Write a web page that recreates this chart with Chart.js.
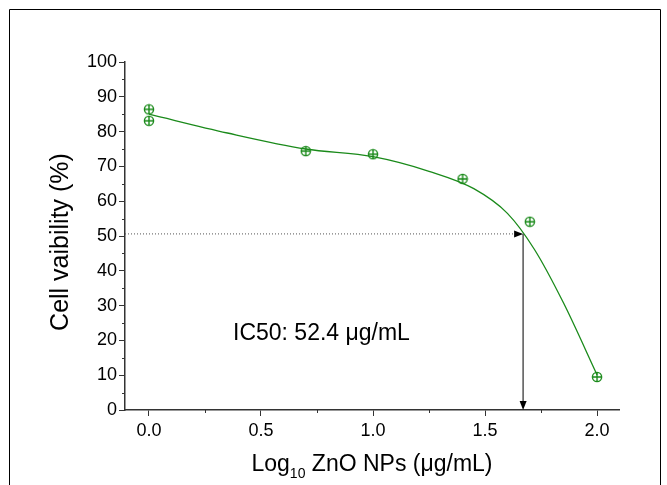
<!DOCTYPE html>
<html lang="en">
<head>
<meta charset="UTF-8">
<script src="https://cdn.jsdelivr.net/npm/chart.js"></script>
<style>
  body { margin: 0; background: #fff; }
  #wrap { width: 667px; height: 485px; }
</style>
</head>
<body>
<div id="wrap"><canvas id="myChart" width="667" height="485"></canvas></div>
<script>
// measured points (log10 conc, viability %)
const doseLog = [0, 0, 0.7, 1.0, 1.4, 1.7, 2.0]
const viability = [86.4, 83.1, 74.4, 73.5, 66.4, 54.1, 9.5]

// fitted curve
const fitX = [0, 0.35, 0.7, 1.0, 1.25, 1.45, 1.6, 1.72, 1.85, 2.0]
const fitY = [85.0, 79.6, 75.0, 72.8, 68.6, 63.6, 56.5, 46.2, 30.8, 10.1]

// IC50 guide
const ic50X = 1.67
const ic50Y = 50.6
const xTicks = [0, 0.5, 1.0, 1.5, 2.0]
const xMin = -0.107
const xMax = 2.098

const yTitle = 'Cell vaibility (%)'
const xTitleMain = 'Log'
const xTitleSub = '10'
const xTitleRest = ' ZnO NPs (\u03bcg/mL)'
const ic50Text = 'IC50: 52.4 \u03bcg/mL'

const green = '#1a8a1a'
const FONT = "'Liberation Sans', Arial, sans-serif"

// circle-plus marker
const marker = document.createElement('canvas')
marker.width = 12
marker.height = 12
const mctx = marker.getContext('2d')
mctx.strokeStyle = green
mctx.lineWidth = 1.4
mctx.beginPath()
mctx.arc(6, 6, 4.6, 0, Math.PI * 2)
mctx.moveTo(1.4, 6); mctx.lineTo(10.6, 6)
mctx.moveTo(6, 1.4); mctx.lineTo(6, 10.6)
mctx.stroke()

const extras = {
  id: 'extras',
  beforeDraw(chart) {
    const c = chart.ctx
    c.save()
    c.strokeStyle = '#000'
    c.lineWidth = 1
    c.beginPath()
    c.moveTo(9.5, 485)
    c.lineTo(9.5, 9.5)
    c.lineTo(660.5, 9.5)
    c.lineTo(660.5, 485)
    c.stroke()
    c.restore()
  },
  afterDraw(chart) {
    const c = chart.ctx
    const xs = chart.scales.x
    const ys = chart.scales.y
    const area = chart.chartArea
    c.save()
    // minor ticks
    c.strokeStyle = '#333'
    c.lineWidth = 1
    c.beginPath()
    for (let v = 5; v < 100; v += 10) {
      const py = Math.round(ys.getPixelForValue(v)) + 0.5
      c.moveTo(area.left - 3, py)
      c.lineTo(area.left, py)
    }
    for (let v = 0.25; v < 2.1; v += 0.5) {
      const px = Math.round(xs.getPixelForValue(v)) + 0.5
      c.moveTo(px, area.bottom)
      c.lineTo(px, area.bottom + 3)
    }
    c.stroke()

    // arrow heads
    const tx = xs.getPixelForValue(ic50X)
    const ty = ys.getPixelForValue(ic50Y)
    c.fillStyle = '#000'
    c.beginPath()
    c.moveTo(tx, ty)
    c.lineTo(tx - 9, ty - 3.5)
    c.lineTo(tx - 9, ty + 3.5)
    c.closePath()
    c.fill()
    const by = ys.getPixelForValue(0)
    c.beginPath()
    c.moveTo(tx, by)
    c.lineTo(tx - 3.5, by - 9)
    c.lineTo(tx + 3.5, by - 9)
    c.closePath()
    c.fill()

    // texts
    c.fillStyle = '#000'
    c.font = '23px ' + FONT
    c.textAlign = 'left'
    c.textBaseline = 'alphabetic'
    c.fillText(ic50Text, xs.getPixelForValue(0.375), ys.getPixelForValue(20.2))

    c.save()
    c.translate(61, (area.top + area.bottom) / 2 + 6)
    c.rotate(-Math.PI / 2)
    c.font = '25px ' + FONT
    c.textAlign = 'center'
    c.textBaseline = 'middle'
    c.fillText(yTitle, 0, 0)
    c.restore()

    const big = '23px ' + FONT
    const small = '14px ' + FONT
    c.font = big
    const w1 = c.measureText(xTitleMain).width
    const w3 = c.measureText(xTitleRest).width
    c.font = small
    const w2 = c.measureText(xTitleSub).width
    let sx = (area.left + area.right) / 2 - (w1 + w2 + w3) / 2
    const base = 471
    c.font = big
    c.fillText(xTitleMain, sx, base)
    sx += w1
    c.font = small
    c.fillText(xTitleSub, sx, base + 7)
    sx += w2
    c.font = big
    c.fillText(xTitleRest, sx, base)
    c.restore()
  }
}

const ctx = document.getElementById('myChart')
new Chart(ctx, {
  type: 'scatter',
  data: {
    datasets: [
      {
        label: 'guide',
        data: [{ x: xMin, y: ic50Y }, { x: ic50X - 0.03, y: ic50Y }],
        showLine: true,
        borderColor: '#555',
        borderWidth: 1,
        borderDash: [1, 2],
        pointRadius: 0
      },
      {
        label: 'drop',
        data: [{ x: ic50X, y: ic50Y }, { x: ic50X, y: 2 }],
        showLine: true,
        borderColor: '#555',
        borderWidth: 1.5,
        pointRadius: 0
      },
      {
        label: 'fit',
        data: fitX.map((x, i) => ({ x: x, y: fitY[i] })),
        showLine: true,
        borderColor: green,
        borderWidth: 1.3,
        cubicInterpolationMode: 'monotone',
        pointRadius: 0
      },
      {
        label: 'data',
        data: doseLog.map((x, i) => ({ x: x, y: viability[i] })),
        pointStyle: marker,
        pointRadius: 6
      }
    ]
  },
  options: {
    responsive: false,
    animation: false,
    layout: { padding: { top: 62, right: 48, left: 0, bottom: 0 } },
    plugins: { legend: { display: false }, tooltip: { enabled: false } },
    scales: {
      x: {
        type: 'linear',
        min: xMin,
        max: xMax,
        afterBuildTicks: (s) => { s.ticks = xTicks.map(v => ({ value: v })) },
        afterFit: (s) => { s.height = 75 },
        ticks: {
          callback: (v) => Number(v).toFixed(1),
          font: { size: 18, family: FONT },
          color: '#000',
          padding: 4,
          maxRotation: 0
        },
        grid: { drawOnChartArea: false, tickLength: 6, tickColor: '#333', tickWidth: 1 },
        border: { color: '#333', width: 1.5 }
      },
      y: {
        min: 0,
        max: 100,
        afterFit: (s) => { s.width = 125 },
        ticks: {
          stepSize: 10,
          font: { size: 18, family: FONT },
          color: '#000',
          padding: 2
        },
        grid: { drawOnChartArea: false, tickLength: 6, tickColor: '#333', tickWidth: 1 },
        border: { color: '#333', width: 1.5 }
      }
    }
  },
  plugins: [extras]
})
</script>
</body>
</html>
